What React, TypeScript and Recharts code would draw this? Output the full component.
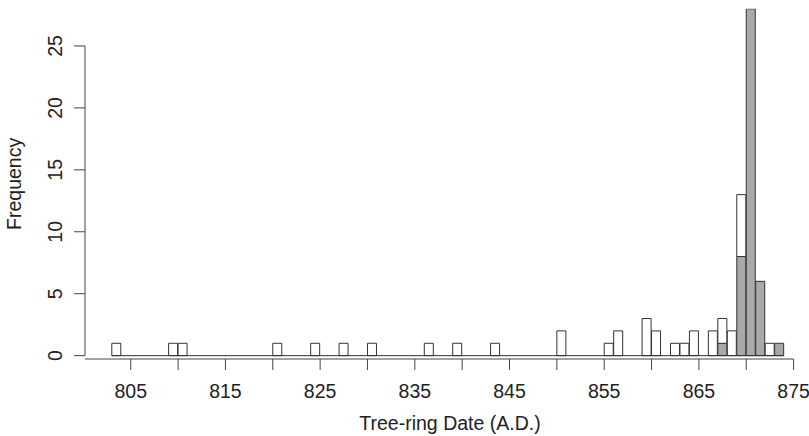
import React from 'react';
import { ComposedChart, Bar, XAxis, YAxis, ReferenceLine, Label } from 'recharts';

// One-year bins, 803 .. 873 A.D.
const years = [
  803, 804, 805, 806, 807, 808, 809,
  810, 811, 812, 813, 814, 815, 816, 817, 818, 819,
  820, 821, 822, 823, 824, 825, 826, 827, 828, 829,
  830, 831, 832, 833, 834, 835, 836, 837, 838, 839,
  840, 841, 842, 843, 844, 845, 846, 847, 848, 849,
  850, 851, 852, 853, 854, 855, 856, 857, 858, 859,
  860, 861, 862, 863, 864, 865, 866, 867, 868, 869,
  870, 871, 872, 873,
];

// counts shown in grey (bottom of each bar)
const greyCounts = [
  0, 0, 0, 0, 0, 0, 0,
  0, 0, 0, 0, 0, 0, 0, 0, 0, 0,
  0, 0, 0, 0, 0, 0, 0, 0, 0, 0,
  0, 0, 0, 0, 0, 0, 0, 0, 0, 0,
  0, 0, 0, 0, 0, 0, 0, 0, 0, 0,
  0, 0, 0, 0, 0, 0, 0, 0, 0, 0,
  0, 0, 0, 0, 0, 0, 0, 1, 0, 8,
  28, 6, 0, 1,
];

// counts shown in white (stacked on top of the grey part)
const whiteCounts = [
  1, 0, 0, 0, 0, 0, 1,
  1, 0, 0, 0, 0, 0, 0, 0, 0, 0,
  1, 0, 0, 0, 1, 0, 0, 1, 0, 0,
  1, 0, 0, 0, 0, 0, 1, 0, 0, 1,
  0, 0, 0, 1, 0, 0, 0, 0, 0, 0,
  2, 0, 0, 0, 0, 1, 2, 0, 0, 3,
  2, 0, 1, 1, 2, 0, 2, 2, 2, 5,
  0, 0, 1, 0,
];

const xTicks = [805, 810, 815, 820, 825, 830, 835, 840, 845, 850, 855, 860, 865, 870, 875];
const xLabelTicks = [805, 815, 825, 835, 845, 855, 865, 875];
const yTicks = [0, 5, 10, 15, 20, 25];
const yAxisLineTop = 25;

const data = years.map((year, i) => ({ year, grey: greyCounts[i], white: whiteCounts[i] }));

const W = 809;
const H = 436;
const X_MIN = 800.17;
const X_MAX = 875;
const PLOT_LEFT = 85;
const PLOT_RIGHT = 793.6;
const PLOT_TOP = 8.8;
const PLOT_BOTTOM = 359;
const PX_PER_YEAR = (PLOT_RIGHT - PLOT_LEFT) / (X_MAX - X_MIN);
const binStart = years[0];
const binEnd = years[years.length - 1] + 1;

const FONT = "'Liberation Sans', Arial, Helvetica, sans-serif";
const FS = 19.5;
const TEXT = '#222';
const AXIS = '#444';

const XTick = (props: any) => {
  const { x, y, payload } = props;
  if (!xLabelTicks.includes(payload.value)) return <g />;
  return (
    <text x={x} y={y + 27.5} textAnchor="middle" fontFamily={FONT} fontSize={FS} fill={TEXT}>
      {payload.value}
    </text>
  );
};

const YTick = (props: any) => {
  const { x, y, payload } = props;
  const bx = x - 12.3;
  return (
    <text
      x={bx}
      y={y}
      transform={`rotate(-90, ${bx}, ${y})`}
      textAnchor="middle"
      fontFamily={FONT}
      fontSize={FS}
      fill={TEXT}
    >
      {payload.value}
    </text>
  );
};

export default function App() {
  return (
    <div style={{ position: 'absolute', left: 0, top: 0, width: W, height: H, background: '#fff' }}>
      <ComposedChart
        width={W}
        height={H}
        data={data}
        margin={{ top: PLOT_TOP, right: W - PLOT_RIGHT, bottom: 0, left: 0 }}
        barCategoryGap={0}
        barGap={0}
      >
        <XAxis
          xAxisId="num"
          dataKey="year"
          type="number"
          orientation="bottom"
          domain={[X_MIN, X_MAX]}
          allowDataOverflow
          ticks={xTicks}
          interval={0}
          height={H - PLOT_BOTTOM}
          tickSize={11}
          tickMargin={0}
          tick={<XTick />}
          tickLine={{ stroke: AXIS, strokeWidth: 1 }}
          axisLine={{ stroke: AXIS, strokeWidth: 1 }}
        >
          <Label
            content={() => (
              <text x={450} y={430} textAnchor="middle" fontFamily={FONT} fontSize={FS} fill={TEXT}>
                Tree-ring Date (A.D.)
              </text>
            )}
          />
        </XAxis>
        <XAxis
          xAxisId="cat"
          dataKey="year"
          type="category"
          orientation="top"
          height={0}
          hide
          padding={{ left: (binStart - X_MIN) * PX_PER_YEAR, right: (X_MAX - binEnd) * PX_PER_YEAR }}
        />
        <YAxis
          type="number"
          domain={[-0.27, 28]}
          allowDataOverflow
          ticks={yTicks}
          interval={0}
          width={PLOT_LEFT}
          tickSize={11}
          tickMargin={0}
          tick={<YTick />}
          tickLine={{ stroke: AXIS, strokeWidth: 1 }}
          axisLine={false}
        >
          <Label
            content={() => (
              <text
                x={21}
                y={(PLOT_TOP + PLOT_BOTTOM) / 2}
                transform={`rotate(-90, 21, ${(PLOT_TOP + PLOT_BOTTOM) / 2})`}
                textAnchor="middle"
                fontFamily={FONT}
                fontSize={FS}
                fill={TEXT}
              >
                Frequency
              </text>
            )}
          />
        </YAxis>
        <Bar
          xAxisId="cat"
          dataKey="grey"
          stackId="h"
          fill="#a9a9a9"
          stroke="#333"
          strokeWidth={1}
          isAnimationActive={false}
        />
        <Bar
          xAxisId="cat"
          dataKey="white"
          stackId="h"
          fill="#ffffff"
          stroke="#333"
          strokeWidth={1}
          isAnimationActive={false}
        />
        <ReferenceLine
          xAxisId="num"
          segment={[{ x: binStart, y: 0 }, { x: binEnd, y: 0 }]}
          stroke="#333"
          strokeWidth={1}
          ifOverflow="visible"
        />
        <ReferenceLine
          xAxisId="num"
          segment={[{ x: X_MIN, y: 0 }, { x: X_MIN, y: yAxisLineTop }]}
          stroke={AXIS}
          strokeWidth={1}
          ifOverflow="visible"
        />
      </ComposedChart>
    </div>
  );
}
